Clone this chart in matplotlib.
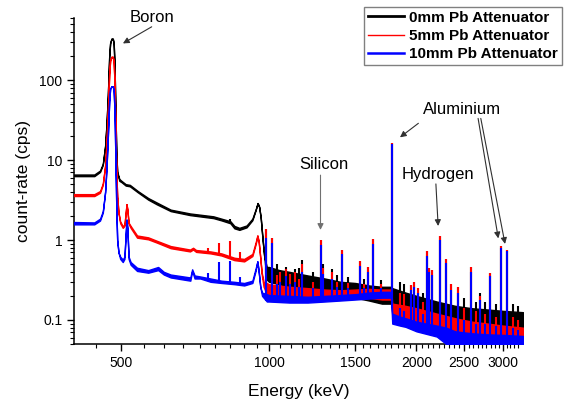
import numpy as np
import matplotlib
matplotlib.use("Agg")
import matplotlib.pyplot as plt
from matplotlib.lines import Line2D
from matplotlib.ticker import FixedLocator, LogLocator, FuncFormatter, NullFormatter

plt.rcParams['font.family'] = ['Liberation Sans', 'DejaVu Sans']

# ---- continuum traces: energy (keV), lower / upper edge of the trace (cps) ----
black_E = [400, 440, 452, 458, 463, 466, 469, 472, 474, 477, 480, 482, 484, 486, 488, 490, 495,
           500, 510, 520, 540, 567, 590, 630, 690, 770, 800, 834, 850, 870, 900, 925, 940, 948,
           955, 962, 970, 978, 990, 1000, 1050, 1100, 1200, 1300, 1400, 1500, 1600, 1700, 1775,
           1785, 1900, 2000, 2200, 2400, 2600, 2800, 3000, 3300]
black_hi = [6.6, 6.6, 7.4, 9.0, 15, 28, 65, 200, 290, 330, 330, 290, 150, 40, 12, 7.2, 5.8,
            5.5, 5.0, 4.9, 4.1, 3.35, 2.95, 2.4, 2.15, 1.98, 1.85, 1.72, 1.5, 1.42, 1.52, 1.85, 2.45, 2.9,
            2.6, 1.9, 1.05, 0.62, 0.46, 0.46, 0.42, 0.40, 0.36, 0.33, 0.30, 0.29, 0.27, 0.26, 0.26,
            0.25, 0.22, 0.20, 0.17, 0.15, 0.14, 0.135, 0.13, 0.125]
black_lo = [6.3, 6.3, 7.1, 8.7, 15, 28, 65, 200, 290, 330, 330, 290, 150, 40, 12, 7.0, 5.5,
            5.3, 4.8, 4.7, 3.95, 3.2, 2.8, 2.3, 2.05, 1.88, 1.76, 1.62, 1.4, 1.34, 1.44, 1.77, 2.4, 2.9,
            2.6, 1.9, 1.05, 0.62, 0.32, 0.30, 0.28, 0.26, 0.23, 0.21, 0.20, 0.19, 0.175, 0.16, 0.16,
            0.16, 0.14, 0.125, 0.11, 0.10, 0.09, 0.088, 0.085, 0.082]

red_E = [400, 440, 452, 458, 463, 466, 469, 472, 474, 477, 480, 482, 484, 486, 488, 490, 493,
         497, 503, 507, 510, 512, 514, 517, 522, 538, 567, 590, 630, 690, 700, 710, 760, 800,
         850, 890, 925, 940, 947, 953, 960, 966, 975, 990, 1000, 1100, 1200, 1300, 1400, 1500,
         1600, 1700, 1775, 1785, 1900, 2000, 2200, 2400, 2600, 2800, 3000, 3300]
red_hi = [3.75, 3.75, 4.1, 5.1, 8.5, 16, 40, 120, 175, 196, 196, 170, 90, 25, 7, 3.5, 2.2,
          1.7, 1.5, 1.55, 2.2, 2.8, 2.4, 1.65, 1.5, 1.14, 1.08, 0.98, 0.84, 0.76, 0.8, 0.75, 0.72, 0.68,
          0.6, 0.58, 0.67, 0.95, 1.15, 0.95, 0.6, 0.4, 0.3, 0.29, 0.28, 0.26, 0.25, 0.24, 0.235, 0.24,
          0.245, 0.24, 0.24, 0.16, 0.15, 0.14, 0.12, 0.105, 0.095, 0.09, 0.085, 0.08]
red_lo = [3.55, 3.55, 3.9, 4.9, 8.5, 16, 40, 120, 175, 196, 196, 170, 90, 25, 7, 3.5, 2.2,
          1.62, 1.42, 1.5, 2.2, 2.8, 2.4, 1.6, 1.42, 1.07, 1.02, 0.93, 0.79, 0.72, 0.76, 0.71, 0.68, 0.64,
          0.56, 0.54, 0.63, 0.9, 1.12, 0.95, 0.6, 0.38, 0.26, 0.21, 0.21, 0.19, 0.185, 0.18, 0.18, 0.185,
          0.19, 0.18, 0.18, 0.115, 0.105, 0.095, 0.082, 0.072, 0.066, 0.062, 0.058, 0.055]

blue_E = [400, 440, 452, 458, 463, 466, 469, 472, 474, 477, 480, 482, 484, 486, 488, 490, 493,
          497, 503, 507, 510, 512, 514, 517, 522, 538, 567, 594, 610, 630, 691, 697, 705, 724,
          760, 800, 850, 890, 925, 940, 947, 953, 960, 968, 990, 1000, 1100, 1200, 1300, 1400,
          1500, 1600, 1700, 1775, 1785, 1850, 1900, 2000, 2200, 2300, 2400, 2600, 2800, 3000, 3300]
blue_hi = [1.68, 1.66, 1.85, 2.3, 4.0, 8.0, 20, 55, 78, 84, 84, 74, 40, 10, 2.5, 1.0, 0.7,
           0.62, 0.57, 0.62, 1.2, 1.8, 1.4, 0.62, 0.53, 0.45, 0.42, 0.46, 0.4, 0.37, 0.34, 0.43, 0.36, 0.35,
           0.33, 0.31, 0.30, 0.29, 0.31, 0.45, 0.54, 0.4, 0.26, 0.22, 0.21, 0.205, 0.2, 0.195, 0.2, 0.205,
           0.21, 0.22, 0.225, 0.225, 0.12, 0.11, 0.105, 0.095, 0.085, 0.08, 0.072, 0.068, 0.066, 0.065, 0.063]
blue_lo = [1.57, 1.57, 1.75, 2.2, 4.0, 8.0, 20, 55, 78, 84, 84, 74, 40, 10, 2.5, 1.0, 0.7,
           0.58, 0.53, 0.58, 1.2, 1.8, 1.4, 0.58, 0.49, 0.41, 0.39, 0.42, 0.37, 0.34, 0.31, 0.41, 0.33, 0.33,
           0.30, 0.29, 0.28, 0.27, 0.29, 0.42, 0.54, 0.4, 0.26, 0.2, 0.17, 0.17, 0.165, 0.165, 0.17, 0.175,
           0.18, 0.185, 0.19, 0.19, 0.09, 0.085, 0.082, 0.072, 0.062, 0.05, 0.045, 0.045, 0.045, 0.045, 0.045]

# ---- narrow gamma lines: energy (keV) and peak count-rate per attenuator ----
peak_E = [752, 789, 834, 871, 987, 1014, 1040, 1055, 1084, 1106, 1132, 1150, 1170, 1230, 1277,
          1290, 1346, 1380, 1411, 1450, 1531, 1560, 1593, 1631, 1690, 1779, 1850, 1890, 1946,
          1980, 2013, 2060, 2101, 2125, 2150, 2230, 2300, 2350, 2430, 2500, 2590, 2640, 2690,
          2760, 2830, 2900, 2970, 3060, 3150, 3230]
peak_black = [np.nan, np.nan, 1.85, np.nan, 1.37, 1.05, 0.50, 0.42, 0.46, 0.40, 0.44, 0.45, 0.57, 0.40, 1.0,
              0.5, 0.44, 0.36, 0.76, 0.34, 0.54, 0.33, 0.46, 1.02, 0.32, 16.5, 0.30, 0.28, 0.27,
              0.30, 0.25, 0.22, 0.72, 0.45, 0.42, 1.12, 0.58, 0.28, 0.26, 0.19, 0.46, 0.17, 0.22,
              0.17, 0.39, 0.16, 0.85, 0.76, 0.16, 0.15]
peak_red = [0.80, 0.93, 0.97, 0.70, 1.37, 1.05, 0.36, 0.40, 0.44, 0.38, 0.40, 0.33, 0.50, 0.30, 1.0,
            0.45, 0.40, 0.30, 0.76, 0.29, 0.54, 0.28, 0.46, 1.02, 0.28, 16.5, 0.22, 0.21, 0.27,
            0.30, 0.25, 0.17, 0.72, 0.45, 0.42, 1.12, 0.58, 0.28, 0.26, 0.14, 0.46, 0.13, 0.20,
            0.12, 0.39, 0.11, 0.85, 0.76, 0.11, 0.10]
peak_blue = [0.39, 0.53, 0.54, 0.34, 1.07, 0.93, 0.28, 0.30, 0.35, 0.28, 0.30, 0.26, 0.40, 0.25, 0.87,
             0.38, 0.33, 0.26, 0.66, 0.25, 0.47, 0.25, 0.40, 0.90, 0.25, 16.0, 0.14, 0.13, 0.24,
             0.26, 0.22, 0.12, 0.63, 0.40, 0.37, 1.0, 0.52, 0.24, 0.22, 0.10, 0.40, 0.09, 0.18,
             0.09, 0.35, 0.085, 0.80, 0.72, 0.08, 0.075]

series = [
    ("0mm Pb Attenuator", "#000000", black_E, black_lo, black_hi, peak_black, 2.0),
    ("5mm Pb Attenuator", "#ff0000", red_E, red_lo, red_hi, peak_red, 1.0),
    ("10mm Pb Attenuator", "#0000ff", blue_E, blue_lo, blue_hi, peak_blue, 1.8),
]

fig = plt.figure(figsize=(5.64, 4.01), dpi=100)
ax = fig.add_axes([74 / 564, 1 - 344 / 401, 449 / 564, 326 / 401])
ax.set_xscale('log')
ax.set_yscale('log')

handles = []
for z, (label, color, E, lo, hi, peaks, leg_lw) in enumerate(series):
    E = np.asarray(E, float)
    lo = np.asarray(lo, float)
    hi = np.asarray(hi, float)
    assert len(E) == len(lo) == len(hi), label
    ax.fill_between(E, lo, hi, color=color, lw=1.0, zorder=2 + z)
    pE = np.asarray(peak_E, float)
    ph = np.asarray(peaks, float)
    assert len(pE) == len(ph), label
    ok = ~np.isnan(ph)
    base = 10 ** np.interp(np.log10(pE[ok]), np.log10(E), np.log10(lo))
    ax.vlines(pE[ok], base, ph[ok], colors=color, lw=1.5, zorder=2 + z)
    handles.append(Line2D([], [], color=color, lw=leg_lw, label=label))

ax.set_xlim(400, 3300)
ax.set_ylim(0.05, 600)

# axes styling
for side in ('top', 'right'):
    ax.spines[side].set_visible(False)
for side in ('left', 'bottom'):
    ax.spines[side].set_linewidth(1.1)

x_major = [500, 1000, 1500, 2000, 2500, 3000]
x_minor = [500 + k * 500 / 9 for k in range(-1, 50)]
x_minor = [v for v in x_minor if 400 <= v <= 3300 and all(abs(v - m) > 1 for m in x_major)]
ax.xaxis.set_major_locator(FixedLocator(x_major))
ax.xaxis.set_minor_locator(FixedLocator(x_minor))
ax.xaxis.set_major_formatter(FuncFormatter(lambda v, _: f"{v:g}"))
ax.xaxis.set_minor_formatter(NullFormatter())

ax.yaxis.set_major_locator(FixedLocator([0.1, 1, 10, 100]))
ax.yaxis.set_minor_locator(LogLocator(base=10, subs=np.arange(2, 10)))
ax.yaxis.set_major_formatter(FuncFormatter(lambda v, _: f"{v:g}"))
ax.yaxis.set_minor_formatter(NullFormatter())

ax.tick_params(which='major', direction='out', length=5, width=1, labelsize=10, pad=3.5)
ax.tick_params(which='minor', direction='out', length=3, width=0.8)

ax.set_xlabel("Energy (keV)", fontsize=12.5, labelpad=10)
ax.set_ylabel("count-rate (cps)", fontsize=12.5, labelpad=6)

leg = ax.legend(handles=handles, loc='upper right', bbox_to_anchor=(562 / 564, 1 - 7 / 401),
                bbox_transform=fig.transFigure, frameon=True, fancybox=False,
                edgecolor='#808080', framealpha=1, borderpad=0.25, borderaxespad=0,
                handlelength=2.35, handletextpad=0.35, labelspacing=0.28,
                prop={'weight': 'bold', 'size': 11})
leg.get_frame().set_linewidth(1.0)

# element labels with arrows (axes-fraction coordinates)
arrow = dict(arrowstyle='-|>', color='#303030', lw=0.8, mutation_scale=9,
             shrinkA=0, shrinkB=0)
ax.text(0.174, 1.003, "Boron", transform=ax.transAxes, ha='center', va='center', fontsize=12)
ax.annotate("", xy=(0.109, 0.922), xytext=(0.173, 0.973), xycoords='axes fraction',
            arrowprops=arrow, annotation_clip=False)

ax.text(0.557, 0.552, "Silicon", transform=ax.transAxes, ha='center', va='center', fontsize=12)
ax.annotate("", xy=(0.549, 0.350), xytext=(0.549, 0.518), xycoords='axes fraction',
            arrowprops=dict(arrow, color='#707070'))

ax.text(0.811, 0.521, "Hydrogen", transform=ax.transAxes, ha='center', va='center', fontsize=12)
ax.annotate("", xy=(0.811, 0.362), xytext=(0.806, 0.491), xycoords='axes fraction',
            arrowprops=arrow)

ax.text(0.865, 0.72, "Aluminium", transform=ax.transAxes, ha='center', va='center', fontsize=12)
ax.annotate("", xy=(0.726, 0.634), xytext=(0.767, 0.677), xycoords='axes fraction',
            arrowprops=arrow)
ax.annotate("", xy=(0.945, 0.324), xytext=(0.900, 0.692), xycoords='axes fraction',
            arrowprops=arrow)
ax.annotate("", xy=(0.960, 0.307), xytext=(0.906, 0.692), xycoords='axes fraction',
            arrowprops=arrow)

fig.savefig("out.png", dpi=100)
